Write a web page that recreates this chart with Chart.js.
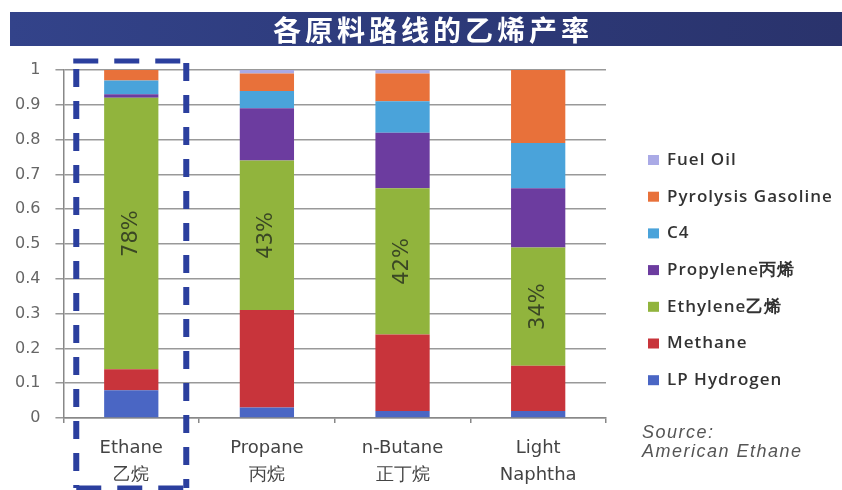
<!DOCTYPE html>
<html>
<head>
<meta charset="utf-8">
<script src="https://cdn.jsdelivr.net/npm/chart.js"></script>
<style>
  html, body { margin: 0; padding: 0; background: #fff; }
  #wrap { width: 842px; height: 490px; }
</style>
</head>
<body>
<div id="wrap"><canvas id="YieldChart"></canvas></div>
<script>
// feedstocks and product yields (fraction of feed)
const feedstocks = [["Ethane", "乙烷"], ["Propane", "丙烷"], ["n-Butane", "正丁烷"], ["Light", "Naphtha"]];
const lpHydrogen = [0.08, 0.03, 0.02, 0.02];
const methane = [0.06, 0.28, 0.22, 0.13];
const ethylene = [0.78, 0.43, 0.42, 0.34];
const propylene = [0.01, 0.15, 0.16, 0.17];
const c4 = [0.04, 0.05, 0.09, 0.13];
const pyrolysisGasoline = [0.03, 0.05, 0.08, 0.21];
const fuelOil = [0, 0.01, 0.01, 0];
const yTickLabels = ["0", "0.1", "0.2", "0.3", "0.4", "0.5", "0.6", "0.7", "0.8", "0.9", "1"];

const titleText = "各原料路线的乙烯产率";
const sourceLines = ["Source:", "American Ethane"];

// banner with the title across the top
const bannerPlugin = {
    id: "banner",
    beforeDraw(chart) {
        const c = chart.ctx;
        c.save();
        const g = c.createLinearGradient(10, 0, 842, 0);
        g.addColorStop(0, "#33438a");
        g.addColorStop(0.5, "#2d3a7a");
        g.addColorStop(1, "#2a336c");
        c.fillStyle = g;
        c.fillRect(10, 12, 832, 34);
        c.fillStyle = "#ffffff";
        c.font = "bold 28px 'Noto Sans CJK SC'";
        c.letterSpacing = "4px";
        c.textAlign = "center";
        c.textBaseline = "middle";
        c.fillText(titleText, 433, 30);
        c.restore();
    },
};

// ethylene share written inside the green segment
const ethyleneLabels = {
    id: "ethyleneLabels",
    afterDatasetsDraw(chart) {
        const c = chart.ctx;
        const idx = chart.data.datasets.findIndex(d => d.label.startsWith("Ethylene"));
        const meta = chart.getDatasetMeta(idx);
        c.save();
        c.fillStyle = "#3a4724";
        c.font = "21px 'DejaVu Sans'";
        c.textAlign = "center";
        c.textBaseline = "middle";
        meta.data.forEach((bar, i) => {
            const v = chart.data.datasets[idx].data[i];
            c.save();
            c.translate(bar.x, (bar.y + bar.base) / 2);
            c.rotate(-Math.PI / 2);
            c.fillText(Math.round(v * 100) + "%", 0, 0);
            c.restore();
        });
        c.restore();
    },
};

// legend on the right (top item = top of stack), source note, dashed box on Ethane
const sideNotes = {
    id: "sideNotes",
    afterDraw(chart) {
        const c = chart.ctx;
        const area = chart.chartArea;
        const sets = chart.data.datasets.slice().reverse();

        c.save();
        c.font = "600 17px 'Open Sans'";
        c.letterSpacing = "1px";
        c.textBaseline = "middle";
        const lx = area.right + 42;
        sets.forEach((ds, i) => {
            const ly = area.top + 90 + i * 36.7;
            c.fillStyle = ds.backgroundColor;
            c.fillRect(lx, ly - 5, 11, 10);
            c.fillStyle = "#333";
            c.fillText(ds.label, lx + 19, ly);
        });

        c.fillStyle = "#555";
        c.font = "italic 18px 'Liberation Sans'";
        c.letterSpacing = "1.5px";
        c.fillText(sourceLines[0], area.right + 36, area.bottom + 15);
        c.fillText(sourceLines[1], area.right + 36, area.bottom + 34);
        c.restore();

        const x0 = chart.scales.x.getPixelForValue(0);
        const left = x0 - 55, right = x0 + 55;
        const top = area.top - 9, bottom = area.bottom + 70;
        c.save();
        c.strokeStyle = "#2b3f9e";
        c.lineCap = "butt";
        c.lineWidth = 5;
        c.setLineDash([25, 16]);
        c.beginPath();
        c.moveTo(left - 3, top);
        c.lineTo(right + 3, top);
        c.moveTo(left, bottom);
        c.lineTo(right + 3, bottom);
        c.stroke();
        c.lineWidth = 6;
        c.setLineDash([18, 14]);
        c.beginPath();
        c.moveTo(left, top + 8);
        c.lineTo(left, bottom);
        c.moveTo(right, top + 2);
        c.lineTo(right, bottom);
        c.stroke();
        c.restore();
    },
};

function YieldChart() {
    const ctx = document.getElementById("YieldChart");

    new Chart(ctx, {
        type: "bar",
        data: {
            labels: feedstocks,
            datasets: [
                { label: "LP Hydrogen", data: lpHydrogen, backgroundColor: "#4a66c4" },
                { label: "Methane", data: methane, backgroundColor: "#c8343b" },
                { label: "Ethylene乙烯", data: ethylene, backgroundColor: "#91b43d" },
                { label: "Propylene丙烯", data: propylene, backgroundColor: "#6c3c9f" },
                { label: "C4", data: c4, backgroundColor: "#4aa3da" },
                { label: "Pyrolysis Gasoline", data: pyrolysisGasoline, backgroundColor: "#e8713a" },
                { label: "Fuel Oil", data: fuelOil, backgroundColor: "#aaaae6" },
            ],
        },
        options: {
            responsive: true,
            maintainAspectRatio: false,
            animation: false,
            datasets: {
                bar: {
                    barPercentage: 0.4,
                    categoryPercentage: 1,
                    borderWidth: 0,
                },
            },
            layout: {
                padding: { top: 70, left: 0, right: 236, bottom: -11 },
            },
            scales: {
                x: {
                    stacked: true,
                    grid: {
                        offset: true,
                        drawOnChartArea: false,
                        color: "#888",
                        lineWidth: 1.5,
                        tickLength: 5,
                    },
                    border: { color: "#888", width: 1.5 },
                    ticks: {
                        color: "#444",
                        padding: 12,
                        font: { family: "'DejaVu Sans'", size: 18, lineHeight: 1.5 },
                    },
                },
                y: {
                    stacked: true,
                    min: 0,
                    max: 1,
                    ticks: {
                        stepSize: 0.1,
                        color: "#666",
                        padding: 15,
                        font: { family: "'DejaVu Sans'", size: 16 },
                        callback: (v) => yTickLabels[Math.round(v * 10)],
                    },
                    grid: {
                        color: "#999",
                        lineWidth: 1.5,
                        tickLength: 8,
                    },
                    border: { color: "#888", width: 1.5 },
                },
            },
            plugins: {
                legend: { display: false },
                tooltip: { enabled: false },
            },
        },
        plugins: [bannerPlugin, ethyleneLabels, sideNotes],
    });
}

YieldChart()
</script>
</body>
</html>
